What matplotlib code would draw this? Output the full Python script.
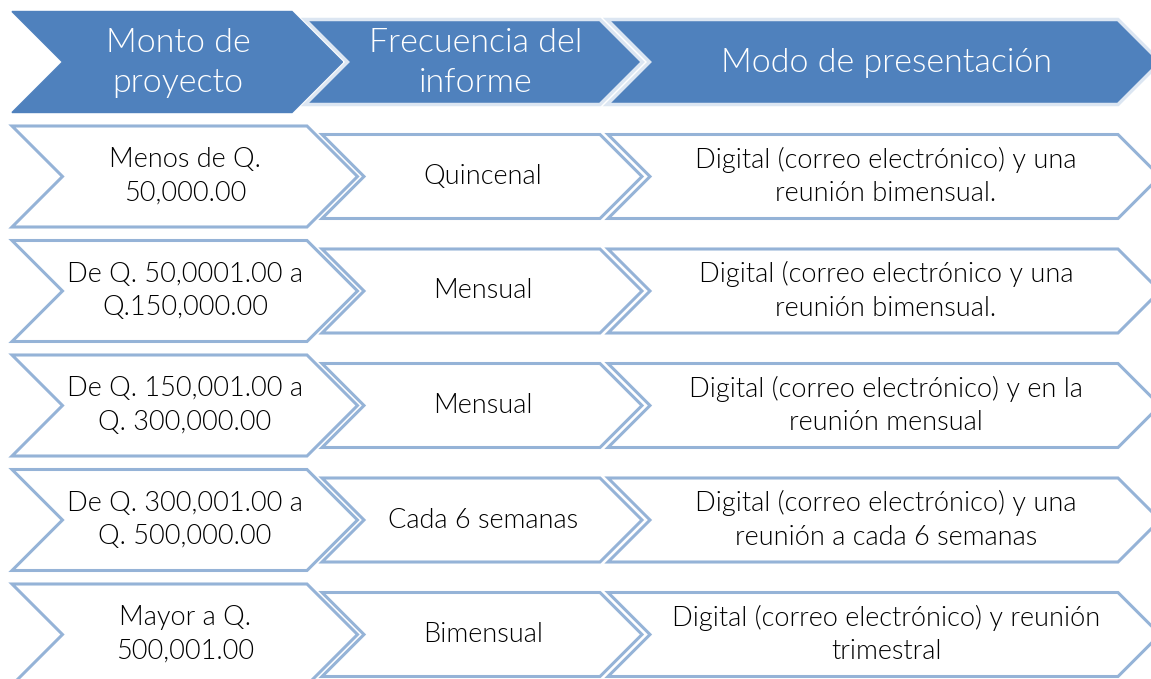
import matplotlib.pyplot as plt
from matplotlib.patches import Polygon

headers = ["Monto de\nproyecto", "Frecuencia del\ninforme", "Modo de presentación"]
montos = ["Menos de Q.\n50,000.00",
          "De Q. 50,0001.00 a\nQ.150,000.00",
          "De Q. 150,001.00 a\nQ. 300,000.00",
          "De Q. 300,001.00 a\nQ. 500,000.00",
          "Mayor a Q.\n500,001.00"]
frecuencias = ["Quincenal", "Mensual", "Mensual", "Cada 6 semanas", "Bimensual"]
modos = ["Digital (correo electrónico) y una\nreunión bimensual.",
         "Digital (correo electrónico y una\nreunión bimensual.",
         "Digital (correo electrónico) y en la\nreunión mensual",
         "Digital (correo electrónico) y una\nreunión a cada 6 semanas",
         "Digital (correo electrónico) y reunión\ntrimestral"]

BLUE = "#4F81BD"
EDGE = "#95B3D7"
FONT = "Lato"


def chevron(ax, x0, x1, yc, half, face, edge, lw, z=1):
    # x0 = left top corner, x1 = right top corner, 45 degree points
    pts = [(x0, yc - half), (x1, yc - half), (x1 + half, yc),
           (x1, yc + half), (x0, yc + half), (x0 + half, yc)]
    ax.add_patch(Polygon(pts, closed=True, facecolor=face, edgecolor=edge,
                         linewidth=lw, joinstyle="miter", zorder=z))


fig = plt.figure(figsize=(11.51, 6.79), dpi=100)
ax = fig.add_axes([0, 0, 1, 1])
ax.set_xlim(0, 1151)
ax.set_ylim(679, 0)
ax.axis("off")

# columns: (left, right, text centre)
cols = [(12, 307, 185), (322, 600, 483), (608, 1118, 886)]

# header row
head_y = 62
chevron(ax, 12, 292, head_y, 50.5, BLUE, BLUE, 1, z=3)
chevron(ax, 305, 600, head_y, 42.5, BLUE, "#dce6f2", 2.5, z=2)
chevron(ax, 607, 1118, head_y, 42.5, BLUE, "#dce6f2", 2.5, z=2)
head_x = [178, 476, 887]
for hx, txt in zip(head_x, headers):
    ax.text(hx, head_y + 1, txt, ha="center", va="center", color="white",
            fontsize=24.5, family=FONT, fontweight=300, linespacing=1.38, zorder=5)

# body rows
for i in range(len(montos)):
    yc = 176.5 + i * 114.5
    chevron(ax, cols[0][0], cols[0][1], yc, 50.5, "white", EDGE, 2.2, z=3)
    chevron(ax, cols[1][0], cols[1][1], yc, 42, "white", EDGE, 2.2, z=2)
    chevron(ax, cols[2][0], cols[2][1], yc, 42, "white", EDGE, 2.2, z=1)
    for (l, r, cx), txt in zip(cols, [montos[i], frecuencias[i], modos[i]]):
        ax.text(cx, yc, txt, ha="center", va="center", color="black",
                fontsize=19.5, family=FONT, fontweight=300, linespacing=1.42, zorder=5)

fig.savefig("out.png", dpi=100)
